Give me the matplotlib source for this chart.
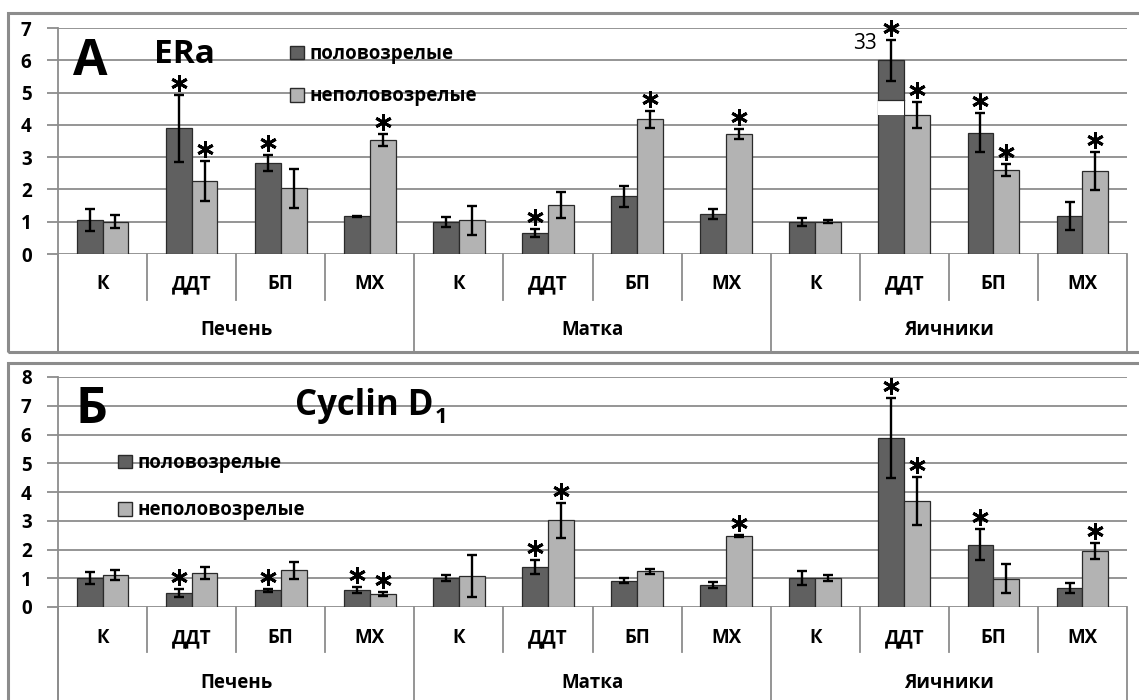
import matplotlib
matplotlib.use('Agg')
import matplotlib.pyplot as plt
import matplotlib.transforms as mtransforms
from matplotlib.patches import Rectangle, Patch
from matplotlib.lines import Line2D
import numpy as np

plt.rcParams['font.family'] = ['Open Sans', 'DejaVu Sans']

# ---------------- data ----------------
groups = ['Печень', 'Матка', 'Яичники']
treatments = ['К', 'ДДТ', 'БП', 'МХ']
series_names = ['половозрелые', 'неполовозрелые']

era_mature = [1.05, 3.89, 2.83, 1.17, 1.00, 0.65, 1.79, 1.23, 1.00, 6.00, 3.76, 1.17]
era_mature_err = [0.33, 1.03, 0.25, 0.02, 0.16, 0.13, 0.33, 0.15, 0.12, 0.64, 0.61, 0.44]
era_immature = [1.00, 2.27, 2.03, 3.54, 1.04, 1.51, 4.17, 3.71, 1.00, 4.31, 2.61, 2.58]
era_immature_err = [0.20, 0.62, 0.60, 0.18, 0.44, 0.41, 0.26, 0.16, 0.05, 0.40, 0.19, 0.59]
era_mature_sig = [0, 1, 1, 0, 0, 1, 0, 0, 0, 1, 1, 0]
era_immature_sig = [0, 1, 0, 1, 0, 0, 1, 1, 0, 1, 1, 1]
era_break = [4.31, 4.77]          # axis break drawn on the tallest bar
era_break_label = '33'             # true value of the broken bar

cyc_mature = [1.01, 0.49, 0.58, 0.58, 1.01, 1.39, 0.92, 0.76, 1.01, 5.88, 2.16, 0.66]
cyc_mature_err = [0.20, 0.15, 0.06, 0.11, 0.09, 0.24, 0.10, 0.10, 0.23, 1.40, 0.54, 0.17]
cyc_immature = [1.11, 1.19, 1.27, 0.46, 1.08, 3.02, 1.24, 2.46, 1.00, 3.68, 0.99, 1.95]
cyc_immature_err = [0.17, 0.20, 0.31, 0.06, 0.73, 0.61, 0.08, 0.03, 0.10, 0.83, 0.50, 0.28]
cyc_mature_sig = [0, 1, 1, 1, 0, 1, 0, 0, 0, 1, 1, 0]
cyc_immature_sig = [0, 0, 0, 1, 0, 1, 0, 1, 0, 1, 0, 1]

# ---------------- style ----------------
W, H = 1139, 700
DARK = '#606060'
LIGHT = '#b3b3b3'
EDGE = '#2a2a2a'
GRID = '#8c8c8c'
BW = 0.29

fig = plt.figure(figsize=(W / 100, H / 100), dpi=100)


def fx(px):
    return px / W


def fy(py):
    return 1 - py / H


def panel(ax, y_zero_px, y_top_px, ymax, box_bottom_px, cat_y, grp_y, sub_len,
          mature, mature_err, immature, immature_err, msig, isig):
    n = len(mature)
    x = np.arange(n)
    ax.set_xlim(-0.5, n - 0.5)
    ax.set_ylim(0, ymax)
    for s in ax.spines.values():
        s.set_visible(False)
    ax.set_xticks([])
    ax.set_yticks(range(0, ymax + 1))
    ax.tick_params(axis='y', length=8, color=GRID, width=1.3, pad=11,
                   labelsize=13.5)
    for lab in ax.get_yticklabels():
        lab.set_fontweight('bold')
    ax.yaxis.grid(True, color=GRID, lw=1.3)
    ax.set_axisbelow(True)

    ekw = dict(ecolor='black', elinewidth=1.7, capsize=3.3, capthick=1.7)
    ax.bar(x - BW / 2, mature, BW, color=DARK, edgecolor=EDGE, lw=0.9,
           yerr=mature_err, error_kw=ekw, zorder=3)
    ax.bar(x + BW / 2, immature, BW, color=LIGHT, edgecolor=EDGE, lw=0.9,
           yerr=immature_err, error_kw=ekw, zorder=3)

    off = mtransforms.ScaledTranslation(0, 0.12, fig.dpi_scale_trans)
    st = ax.transData + off
    for i in range(n):
        for sig, val, err, dx in ((msig, mature, mature_err, -BW / 2),
                                  (isig, immature, immature_err, BW / 2)):
            if sig[i]:
                ax.plot([x[i] + dx], [val[i] + err[i]], marker=(6, 2, 0),
                        ms=12, mew=2.1, color='black', transform=st,
                        clip_on=False, zorder=5)

    # category axis (multi-level)
    tr = mtransforms.blended_transform_factory(ax.transData, fig.transFigure)
    ax.add_line(Line2D([-0.5, -0.5], [fy(y_top_px), fy(box_bottom_px)],
                       transform=tr, color=GRID, lw=1.3, clip_on=False))
    for k in range(n + 1):
        xb = k - 0.5
        if k % 4 == 0:
            yb = fy(box_bottom_px)
        else:
            yb = fy(y_zero_px + sub_len)
        ax.add_line(Line2D([xb, xb], [fy(y_zero_px), yb], transform=tr,
                           color=GRID, lw=1.3, clip_on=False))
    for i in range(n):
        ax.text(x[i], fy(cat_y), treatments[i % 4], transform=tr,
                ha='center', va='center', fontsize=13.5, fontweight='bold')
    for g, name in enumerate(groups):
        ax.text(4 * g + 1.5, fy(grp_y), name, transform=tr,
                ha='center', va='center', fontsize=13.5, fontweight='bold')


# panel boxes
fig.add_artist(Rectangle((fx(8), fy(352)), fx(1200) - fx(8), fy(13) - fy(352),
                         transform=fig.transFigure, fill=False, ec=GRID, lw=2.2))
fig.add_artist(Rectangle((fx(8), fy(760)), fx(1200) - fx(8), fy(363) - fy(760),
                         transform=fig.transFigure, fill=False, ec=GRID, lw=2.2))

axA = fig.add_axes([fx(58), fy(254), fx(1127) - fx(58), fy(28) - fy(254)])
axB = fig.add_axes([fx(58), fy(607), fx(1127) - fx(58), fy(377) - fy(607)])

panel(axA, 254, 28, 7, 352, 284, 330, 46,
      era_mature, era_mature_err, era_immature, era_immature_err,
      era_mature_sig, era_immature_sig)
panel(axB, 607, 377, 8, 760, 638, 683, 45,
      cyc_mature, cyc_mature_err, cyc_immature, cyc_immature_err,
      cyc_mature_sig, cyc_immature_sig)

# axis break on the tallest ERa bar
ib = int(np.argmax(era_mature))
xl = ib - BW
axA.add_patch(Rectangle((xl - 0.01, era_break[0]), BW + 0.01,
                        era_break[1] - era_break[0], facecolor='white',
                        edgecolor='none', zorder=3.5))
axA.plot([xl, xl + BW], [era_break[1], era_break[1]], color=EDGE, lw=0.9,
         zorder=3.6)
axA.annotate(era_break_label, xy=(xl, era_mature[ib] + era_mature_err[ib]),
             xytext=(-1, -3), textcoords='offset points', ha='right',
             va='center', fontsize=15)

# legends
hA = [Patch(facecolor=DARK, edgecolor=EDGE), Patch(facecolor=LIGHT, edgecolor=EDGE)]
for ax, anchor, sp in ((axA, (fx(290), fy(44)), 1.2), (axB, (fx(118), fy(453)), 1.45)):
    ax.legend(hA, series_names, loc='upper left', bbox_to_anchor=anchor,
              bbox_transform=fig.transFigure, frameon=False,
              prop=dict(size=13.5, weight='bold'), handlelength=0.75,
              handleheight=0.75, handletextpad=0.3, labelspacing=sp,
              borderpad=0, borderaxespad=0)

# panel titles
fig.text(fx(73), fy(75), 'А', fontsize=36, fontweight='bold', va='baseline')
fig.text(fx(154), fy(63), 'ERa', fontsize=24, fontweight='bold', va='baseline')
fig.text(fx(76), fy(423), 'Б', fontsize=36, fontweight='bold', va='baseline')
t = fig.text(fx(295), fy(415), 'Cyclin D', fontsize=25, fontweight='bold',
             va='baseline')
fig.canvas.draw()
bb = t.get_window_extent()
fig.text(bb.x1 / W + fx(1), fy(423), '1', fontsize=16, fontweight='bold',
         va='baseline')

fig.savefig('out.png', dpi=100)
